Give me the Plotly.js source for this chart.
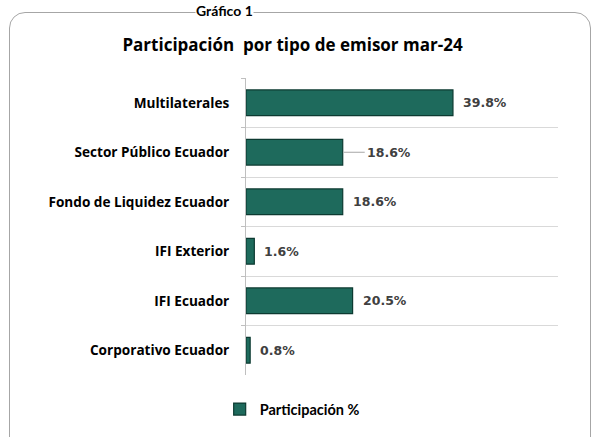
<!DOCTYPE html>
<html>
<head>
<meta charset="utf-8">
<script src="https://cdn.plot.ly/plotly-3.0.1.min.js"></script>
<style>
  html, body { margin: 0; padding: 0; background: #ffffff; }
  #wrap { position: relative; width: 597px; height: 437px; overflow: hidden; }
  #chart { position: absolute; left: 0; top: 0; width: 597px; height: 437px; z-index: 2; }
  #frame { position: absolute; left: 9px; top: 12px; width: 580px; height: 440px;
           border: 1.5px solid #a6a6a6; border-radius: 16px; pointer-events: none; z-index: 1; }
</style>
</head>
<body>
<div id="wrap">
  <div id="frame"></div>
  <div id="chart"></div>
</div>
<script>
const categories = ['Multilaterales', 'Sector Público Ecuador', 'Fondo de Liquidez Ecuador', 'IFI Exterior', 'IFI Ecuador', 'Corporativo Ecuador'];
const values = [39.8, 18.6, 18.6, 1.6, 20.5, 0.8];
const valueLabels = values.map(v => v.toFixed(1) + '%');
const seriesName = 'Participación %';
const chartTitle = 'Participación  por tipo de emisor mar-24';
const figureTitle = 'Gráfico 1';

const barTrace = {
  type: 'bar',
  orientation: 'h',
  x: values,
  y: categories,
  name: seriesName,
  marker: { color: '#1e6a5c', line: { color: '#0c3a31', width: 1.2 } },
  hoverinfo: 'skip',
  showlegend: true
};

const annotations = categories.map((c, i) => {
  const leader = (c === 'Sector Público Ecuador');
  const a = {
    x: values[i], y: c, xref: 'x', yref: 'y',
    text: valueLabels[i],
    xanchor: 'left', yanchor: 'middle',
    font: { family: 'DejaVu Sans', size: 12.5, color: '#404040', weight: 'bold' }
  };
  if (leader) {
    Object.assign(a, { showarrow: true, ax: 22, ay: 0, arrowhead: 0, arrowwidth: 1, arrowcolor: '#a6a6a6', standoff: 1 });
  } else {
    Object.assign(a, { showarrow: false, xshift: 8 });
  }
  return a;
});

annotations.push({
  xref: 'paper', yref: 'paper', x: -0.07, y: 1.26,
  xanchor: 'center', yanchor: 'top', showarrow: false,
  text: '<b>' + figureTitle + '</b>',
  bgcolor: '#ffffff', borderpad: 0,
  font: { family: 'Lato', size: 14, color: '#000000' }
});

const layout = {
  width: 597, height: 437,
  margin: { l: 246, r: 39, t: 78, b: 59, pad: 0 },
  paper_bgcolor: 'rgba(0,0,0,0)',
  plot_bgcolor: '#ffffff',
  font: { family: 'Open Sans', color: '#000000' },
  title: {
    text: '<b>' + chartTitle + '</b>',
    xref: 'container', yref: 'container', x: 0.49, y: 0.897,
    xanchor: 'center', yanchor: 'middle',
    font: { family: 'Open Sans', size: 17, color: '#000000' }
  },
  bargap: 0.48,
  xaxis: {
    range: [0, 60], showgrid: false, zeroline: false, showticklabels: false,
    ticks: '', showline: false, fixedrange: true
  },
  yaxis: {
    type: 'category', autorange: 'reversed',
    tickson: 'boundaries', showgrid: true, gridcolor: '#d9d9d9', gridwidth: 1,
    showline: true, linecolor: '#bfbfbf', linewidth: 1,
    ticks: 'outside', ticklen: 4, tickcolor: '#bfbfbf',
    ticklabelstandoff: 13,
    tickfont: { family: 'Open Sans', size: 13.6, color: '#000000', weight: 'bold' },
    fixedrange: true
  },
  showlegend: true,
  legend: {
    orientation: 'h', x: 0.148, y: -0.115, xanchor: 'center', yanchor: 'middle',
    font: { family: 'Lato', size: 14.5, color: '#000000', weight: 'bold' },
    itemclick: false, itemdoubleclick: false, bgcolor: 'rgba(0,0,0,0)'
  },
  annotations: annotations
};

Plotly.newPlot('chart', [barTrace], layout, { displayModeBar: false, staticPlot: true });
</script>
</body>
</html>
